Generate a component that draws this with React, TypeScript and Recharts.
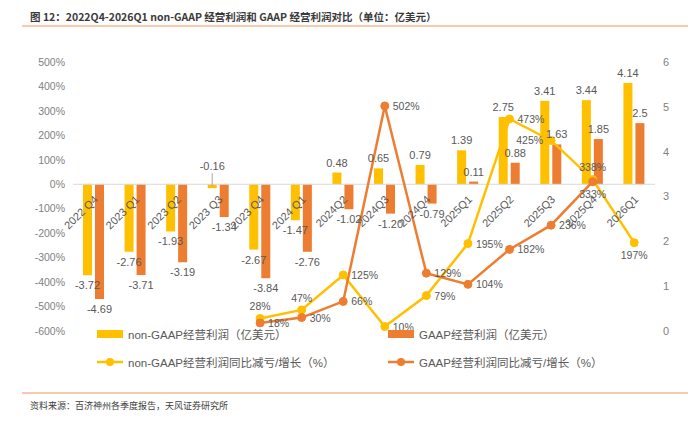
import React from 'react';
import {
  ComposedChart, Bar, Line, XAxis, YAxis, Legend, ReferenceLine, LabelList,
} from 'recharts';

const categories = ['2022 Q4', '2023 Q1', '2023 Q2', '2023 Q3', '2023 Q4', '2024 Q1', '2024Q2', '2024Q3', '2024Q4', '2025Q1', '2025Q2', '2025Q3', '2025Q4', '2026Q1'];
// values as printed on the chart (亿美元)
const nonGaapProfitText = ['-3.72', '-2.76', '-1.93', '-0.16', '-2.67', '-1.47', '0.48', '0.65', '0.79', '1.39', '2.75', '3.41', '3.44', '4.14'];
const gaapProfitText = ['-4.69', '-3.71', '-3.19', '-1.34', '-3.84', '-2.76', '-1.02', '-1.20', '-0.79', '0.11', '0.88', '1.63', '1.85', '2.5'];
// year-over-year change (%)
const nonGaapGrowth = [null, null, null, null, 28, 47, 125, 10, 79, 195, 473, 425, 338, 197];
const gaapGrowth = [null, null, null, null, 18, 30, 66, 502, 129, 104, 182, 236, 333, null];
const leftTicks = [-6, -5, -4, -3, -2, -1, 0, 1, 2, 3, 4, 5];
const rightTicks = [0, 100, 200, 300, 400, 500, 600];
const seriesNames = [
  'non-GAAP经营利润（亿美元）',
  'GAAP经营利润（亿美元）',
  'non-GAAP经营利润同比减亏/增长（%）',
  'GAAP经营利润同比减亏/增长（%）',
];

// label placement (style only)
const nonGaapGrowthLabelPos = ['', '', '', '', 'top', 'top', 'right', 'right', 'right', 'right', 'right', 'left', 'top', 'bottom'];
const gaapGrowthLabelPos = ['', '', '', '', 'right', 'right', 'right', 'right', 'right', 'right', 'right', 'right', 'bottom', ''];

const data = categories.map((cat, i) => ({
  cat,
  nonGaapProfit: parseFloat(nonGaapProfitText[i]),
  gaapProfit: parseFloat(gaapProfitText[i]),
  nonGaapGrowth: nonGaapGrowth[i],
  gaapGrowth: gaapGrowth[i],
  nonGaapLabel: nonGaapProfitText[i],
  gaapLabel: gaapProfitText[i],
}));

const YELLOW = '#FFC000';
const ORANGE = '#ED7D31';
const TEXT = '#595959';
const FONT = '"Liberation Sans", "Noto Sans CJK SC", sans-serif';

const CategoryLabel = (props: any) => {
  const { x, y, value } = props;
  const ax = x + 2;
  const ay = y + 13;
  return (
    <text
      x={ax}
      y={ay}
      transform={`rotate(-45, ${ax}, ${ay})`}
      textAnchor="end"
      dominantBaseline="central"
      fontSize={11}
      fill={TEXT}
      fontFamily={FONT}
    >
      {value}
    </text>
  );
};

const BarValueLabel = (props: any) => {
  const { x, y, width, height, value } = props;
  const cx = x + width / 2;
  const h = Number(height);
  const top = Math.min(y, y + h);
  const bottom = Math.max(y, y + h);
  const isNeg = String(value).startsWith('-');
  let ty: number;
  let baseline: any;
  let leader = null;
  if (!isNeg) {
    ty = top - 6;
    baseline = 'auto';
  } else if (bottom - top < 10) {
    // tiny negative bar: label above the zero line with a leader
    ty = top - 14;
    baseline = 'auto';
    leader = <line x1={cx} y1={ty + 3} x2={cx} y2={top + 2} stroke="#a6a6a6" strokeWidth={1} />;
  } else {
    ty = bottom + 6;
    baseline = 'hanging';
  }
  return (
    <g>
      {leader}
      <text x={cx} y={ty} textAnchor="middle" dominantBaseline={baseline} fontSize={11} fill={TEXT} fontFamily={FONT}>
        {value}
      </text>
    </g>
  );
};

const makeGrowthLabel = (positions: string[]) => (props: any) => {
  const { x, y, value, index } = props;
  if (value === null || value === undefined) return null;
  const pos = positions[index] || 'right';
  let tx = x;
  let ty = y;
  let anchor: any = 'start';
  let baseline: any = 'central';
  if (pos === 'right') { tx = x + 8; }
  if (pos === 'left') { tx = x - 8; anchor = 'end'; }
  if (pos === 'top') { ty = y - 8; anchor = 'middle'; baseline = 'auto'; }
  if (pos === 'bottom') { ty = y + 8; anchor = 'middle'; baseline = 'hanging'; }
  return (
    <text x={tx} y={ty} textAnchor={anchor} dominantBaseline={baseline} fontSize={10.5} fill={TEXT} fontFamily={FONT}>
      {`${value}%`}
    </text>
  );
};

const NonGaapGrowthLabel = makeGrowthLabel(nonGaapGrowthLabelPos);
const GaapGrowthLabel = makeGrowthLabel(gaapGrowthLabelPos);

const LegendContent = (props: any) => {
  const items = (props.payload || [])
    .filter((p: any) => p.type !== 'none' && seriesNames.includes(p.value))
    .sort((a: any, b: any) => seriesNames.indexOf(a.value) - seriesNames.indexOf(b.value));
  return (
    <div style={{ display: 'grid', gridTemplateColumns: '291px 291px', rowGap: 10, fontFamily: FONT }}>
      {items.map((it: any) => {
        const isBar = it.type === 'rect';
        return (
          <div key={it.value} style={{ display: 'flex', alignItems: 'center', height: 18, fontSize: 11.5, color: TEXT }}>
            <svg width={28} height={12} style={{ marginRight: 4 }}>
              {isBar ? (
                <rect x={1} y={2} width={26} height={8} fill={it.color} />
              ) : (
                <g>
                  <line x1={1} y1={6} x2={27} y2={6} stroke={it.color} strokeWidth={2.5} />
                  <circle cx={14} cy={6} r={4} fill={it.color} />
                </g>
              )}
            </svg>
            <span>{it.value}</span>
          </div>
        );
      })}
    </div>
  );
};

export default function App() {
  return (
    <div style={{ position: 'absolute', left: 0, top: 0, width: 700, height: 424, background: '#fff', overflow: 'hidden' }}>
      <div style={{ position: 'absolute', left: 30, top: 9, fontSize: 10.5, fontWeight: 600, color: '#3a3a3a', fontFamily: '"Noto Sans CJK SC", sans-serif', whiteSpace: 'nowrap' }}>
        图 12：2022Q4-2026Q1 non-GAAP 经营利润和 GAAP 经营利润对比（单位：亿美元）
      </div>
      <div style={{ position: 'absolute', left: 22, top: 25, width: 666, height: 1.5, background: '#F8CBAD' }} />
      <ComposedChart
        width={700}
        height={424}
        data={data}
        margin={{ top: 62, bottom: 47, left: 28, right: 0 }}
        barSize={9}
        barGap={3}
      >
        <XAxis dataKey="cat" hide />
        <YAxis
          yAxisId="left"
          width={45}
          domain={[-6, 5]}
          ticks={leftTicks}
          interval={0}
          axisLine={false}
          tickLine={false}
          tickFormatter={(v: number) => `${Math.round(v * 100)}%`}
          tick={{ fontSize: 10.5, fill: '#7f7f7f', fontFamily: FONT }}
        />
        <YAxis
          yAxisId="right"
          orientation="right"
          width={45}
          domain={[0, 600]}
          ticks={rightTicks}
          interval={0}
          axisLine={false}
          tickLine={false}
          tickFormatter={(v: number) => `${v / 100}`}
          tick={{ fontSize: 11, fill: '#7f7f7f', fontFamily: FONT }}
        />
        <ReferenceLine yAxisId="left" y={0} stroke="#D9D9D9" strokeWidth={1} />
        <Bar yAxisId="left" dataKey="nonGaapProfit" name={seriesNames[0]} fill={YELLOW} isAnimationActive={false}>
          <LabelList dataKey="nonGaapLabel" content={<BarValueLabel />} />
        </Bar>
        <Bar yAxisId="left" dataKey="gaapProfit" name={seriesNames[1]} fill={ORANGE} isAnimationActive={false}>
          <LabelList dataKey="gaapLabel" content={<BarValueLabel />} />
        </Bar>
        <Line
          yAxisId="right"
          dataKey="nonGaapGrowth"
          name={seriesNames[2]}
          stroke={YELLOW}
          strokeWidth={2.5}
          dot={{ r: 4, fill: YELLOW, stroke: YELLOW, strokeWidth: 1 }}
          activeDot={false}
          isAnimationActive={false}
        >
          <LabelList dataKey="nonGaapGrowth" content={<NonGaapGrowthLabel />} />
        </Line>
        <Line
          yAxisId="right"
          dataKey="gaapGrowth"
          name={seriesNames[3]}
          stroke={ORANGE}
          strokeWidth={2.5}
          dot={{ r: 4, fill: ORANGE, stroke: ORANGE, strokeWidth: 1 }}
          activeDot={false}
          isAnimationActive={false}
        >
          <LabelList dataKey="gaapGrowth" content={<GaapGrowthLabel />} />
        </Line>
        <Line
          yAxisId="left"
          dataKey={() => 0}
          stroke="none"
          dot={false}
          activeDot={false}
          legendType="none"
          isAnimationActive={false}
        >
          <LabelList dataKey="cat" content={<CategoryLabel />} />
        </Line>
        <Legend
          content={<LegendContent />}
          wrapperStyle={{ position: 'absolute', left: 96, top: 325, width: 600 }}
        />
      </ComposedChart>
      <div style={{ position: 'absolute', left: 22, top: 392, width: 666, height: 1.5, background: '#F8CBAD' }} />
      <div style={{ position: 'absolute', left: 30, top: 399, fontSize: 9, color: '#404040', fontFamily: '"Noto Sans CJK SC", sans-serif', whiteSpace: 'nowrap' }}>
        资料来源：百济神州各季度报告，天风证券研究所
      </div>
    </div>
  );
}
